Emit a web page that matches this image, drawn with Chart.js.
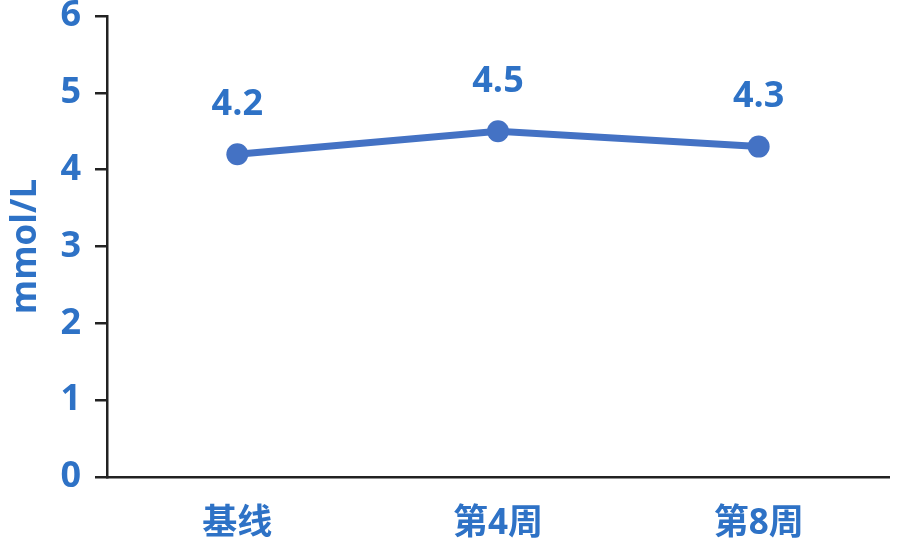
<!DOCTYPE html>
<html>
<head>
<meta charset="utf-8">
<script src="https://cdn.jsdelivr.net/npm/chart.js@4.4.1/dist/chart.umd.min.js"></script>
<style>
    html, body { margin: 0; padding: 0; background: #ffffff; }
    #wrap { width: 900px; height: 557px; position: relative; }
</style>
</head>
<body>
<div id="wrap"><canvas id="lineChart"></canvas></div>
<script>
const categories = ['基线', '第4周', '第8周'];
const values = [4.2, 4.5, 4.3];
const yTicks = [0, 1, 2, 3, 4, 5, 6];
const yTitle = 'mmol/L';

const lineColor = '#4472C4';
const textColor = '#2E72C6';
const axisColor = '#222222';
const fontFamily = "'Open Sans', 'Noto Sans CJK SC', sans-serif";

// Value labels above each point
const valueLabels = {
    id: 'valueLabels',
    afterDatasetsDraw(chart) {
        const ctx = chart.ctx;
        const meta = chart.getDatasetMeta(0);
        ctx.save();
        ctx.font = 'bold 36px ' + fontFamily;
        ctx.fillStyle = textColor;
        ctx.textAlign = 'center';
        ctx.textBaseline = 'middle';
        meta.data.forEach((pt, i) => {
            ctx.fillText(values[i].toFixed(1), pt.x, pt.y - 50);
        });
        ctx.restore();
    }
};

const ctx = document.getElementById('lineChart').getContext('2d');
new Chart(ctx, {
    type: 'line',
    data: {
        labels: categories,
        datasets: [{
            data: values,
            borderColor: lineColor,
            backgroundColor: lineColor,
            borderWidth: 7,
            pointRadius: 11,
            pointHoverRadius: 11,
            pointBorderWidth: 0,
            tension: 0
        }]
    },
    options: {
        responsive: true,
        maintainAspectRatio: false,
        animation: false,
        layout: { padding: { top: 16, right: 9, left: 0, bottom: 0 } },
        plugins: {
            legend: { display: false },
            tooltip: { enabled: false }
        },
        scales: {
            x: {
                offset: true,
                grid: { display: false, drawTicks: false },
                border: { display: true, color: axisColor, width: 2.5 },
                ticks: {
                    color: textColor,
                    padding: 26,
                    font: { family: fontFamily, size: 35, weight: 'bold' }
                },
                afterFit(scale) {
                    scale.height = 80;
                    scale.paddingLeft = 0;
                    scale.paddingRight = 0;
                }
            },
            y: {
                min: 0,
                max: 6,
                afterBuildTicks(scale) {
                    scale.ticks = yTicks.map(v => ({ value: v }));
                },
                grid: {
                    drawOnChartArea: false,
                    drawTicks: true,
                    tickLength: 12,
                    color: axisColor,
                    lineWidth: 2.5
                },
                border: { display: true, color: axisColor, width: 2.5 },
                ticks: {
                    color: textColor,
                    padding: 14,
                    font: { family: fontFamily, size: 36, weight: 'bold' }
                },
                title: {
                    display: true,
                    text: yTitle,
                    color: textColor,
                    padding: { top: 5, bottom: 0 },
                    font: { family: fontFamily, size: 35, weight: 'bold' }
                },
                afterFit(scale) {
                    scale.width = 107;
                    scale.paddingTop = 0;
                    scale.paddingBottom = 0;
                }
            }
        }
    },
    plugins: [valueLabels]
});
</script>
</body>
</html>
